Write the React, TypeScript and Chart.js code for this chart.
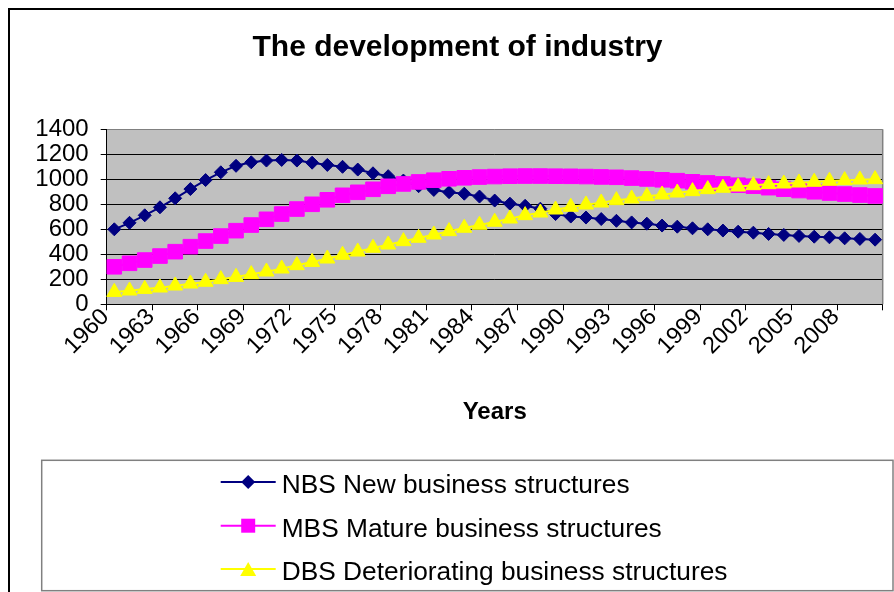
import React, { useEffect, useRef } from 'react';
import { Chart, registerables } from 'chart.js';

Chart.register(...registerables);

const YEARS = [
  '1960', '1961', '1962', '1963', '1964', '1965', '1966', '1967', '1968', '1969',
  '1970', '1971', '1972', '1973', '1974', '1975', '1976', '1977', '1978', '1979',
  '1980', '1981', '1982', '1983', '1984', '1985', '1986', '1987', '1988', '1989',
  '1990', '1991', '1992', '1993', '1994', '1995', '1996', '1997', '1998', '1999',
  '2000', '2001', '2002', '2003', '2004', '2005', '2006', '2007', '2008', '2009',
  '2010',
];

const NBS = [
  600, 652, 712, 776, 848, 922, 994, 1056, 1108, 1136,
  1150, 1155, 1150, 1133, 1115, 1100, 1078, 1048, 1025, 990,
  945, 915, 897, 885, 862, 830, 805, 788, 765, 722,
  702, 694, 682, 668, 655, 645, 630, 621, 608, 600,
  590, 581, 573, 563, 555, 547, 541, 536, 528, 523,
  517,
];

const MBS = [
  300, 328, 354, 386, 421, 461, 506, 546, 589, 634,
  680, 722, 762, 800, 836, 872, 896, 920, 944, 963,
  979, 993, 1004, 1012, 1018, 1022, 1025, 1026, 1026, 1025,
  1024, 1022, 1019, 1016, 1010, 1003, 996, 989, 980, 971,
  963, 953, 945, 933, 921, 910, 900, 890, 882, 874,
  867,
];

const DBS = [
  98, 109, 122, 133, 149, 165, 179, 200, 218, 240,
  261, 285, 312, 338, 365, 395, 421, 451, 477, 504,
  531, 557, 584, 611, 635, 659, 685, 712, 733, 757,
  779, 797, 813, 832, 845, 864, 877, 893, 904, 920,
  931, 941, 952, 960, 965, 973, 979, 987, 992, 997,
  1000,
];

const SERIES_NAMES = [
  'NBS New business structures',
  'MBS Mature business structures',
  'DBS Deteriorating business structures',
];
const SERIES_COLORS = ['#000080', '#FF00FF', '#FFFF00'];
const SERIES_STYLES = ['rectRot', 'rect', 'triangle'];

const TITLE = 'The development of industry';
const X_TITLE = 'Years';
const Y_MIN = 0;
const Y_MAX = 1400;
const Y_STEP = 200;
const LABEL_EVERY = 3;

const FONT = "Arial, 'Liberation Sans', sans-serif";

function drawMarker(ctx: CanvasRenderingContext2D, style: string, x: number, y: number, color: string) {
  ctx.save();
  ctx.fillStyle = color;
  ctx.beginPath();
  if (style === 'rectRot') {
    ctx.moveTo(x, y - 7);
    ctx.lineTo(x + 7, y);
    ctx.lineTo(x, y + 7);
    ctx.lineTo(x - 7, y);
  } else if (style === 'rect') {
    ctx.rect(x - 7, y - 7, 14, 14);
  } else {
    ctx.moveTo(x, y - 7);
    ctx.lineTo(x + 8, y + 7);
    ctx.lineTo(x - 8, y + 7);
  }
  ctx.closePath();
  ctx.fill();
  ctx.restore();
}

const decorPlugin = {
  id: 'decor',
  beforeDraw(chart: any) {
    const { ctx, chartArea: a } = chart;
    ctx.save();
    ctx.fillStyle = '#C0C0C0';
    ctx.fillRect(a.left, a.top, a.right - a.left, a.bottom - a.top);
    ctx.restore();
  },
  beforeDatasetsDraw(chart: any) {
    const { ctx, chartArea: a } = chart;
    ctx.save();
    ctx.strokeStyle = '#808080';
    ctx.lineWidth = 1.5;
    ctx.beginPath();
    ctx.moveTo(a.right, a.top);
    ctx.lineTo(a.right, a.bottom);
    ctx.stroke();
    ctx.restore();
  },
  afterDraw(chart: any) {
    const { ctx } = chart;
    ctx.save();
    // title
    ctx.fillStyle = '#000';
    ctx.font = `bold 30px ${FONT}`;
    ctx.textAlign = 'center';
    ctx.textBaseline = 'alphabetic';
    ctx.fillText(TITLE, 447.5, 46);

    // legend box
    ctx.strokeStyle = '#808080';
    ctx.lineWidth = 1.5;
    ctx.strokeRect(31.7, 450.3, 883 - 31.7, 580.7 - 450.3);

    const rowY = [472, 515.7, 559];
    chart.data.datasets.forEach((ds: any, i: number) => {
      const y = rowY[i];
      ctx.strokeStyle = ds.borderColor;
      ctx.lineWidth = 2;
      ctx.beginPath();
      ctx.moveTo(210.7, y);
      ctx.lineTo(265.7, y);
      ctx.stroke();
      drawMarker(ctx, ds.pointStyle, 238.2, y, ds.borderColor);
      ctx.fillStyle = '#000';
      ctx.font = `26.3px ${FONT}`;
      ctx.textAlign = 'left';
      ctx.textBaseline = 'alphabetic';
      ctx.fillText(ds.label, 271.7, y + 11);
    });
    ctx.restore();
  },
};

export default function App() {
  const ref = useRef<HTMLCanvasElement | null>(null);

  useEffect(() => {
    document.documentElement.style.overflow = 'hidden';
    const canvas = ref.current;
    if (!canvas) return;
    const seriesData = [NBS, MBS, DBS];
    const radii = [6.5, 10.3, 8.7];
    const chart = new Chart(canvas, {
      type: 'line',
      data: {
        labels: YEARS,
        datasets: seriesData.map((d, i) => ({
          label: SERIES_NAMES[i],
          data: d,
          borderColor: SERIES_COLORS[i],
          backgroundColor: SERIES_COLORS[i],
          pointBackgroundColor: SERIES_COLORS[i],
          pointBorderColor: SERIES_COLORS[i],
          pointStyle: SERIES_STYLES[i] as any,
          pointRadius: radii[i],
          pointBorderWidth: 1,
          borderWidth: 2,
          tension: 0,
          fill: false,
          order: 2 - i,
        })),
      },
      options: {
        animation: false,
        responsive: false,
        maintainAspectRatio: false,
        layout: { padding: { top: 119.3, right: 7.3, bottom: 164.9, left: 0 } },
        plugins: {
          legend: { display: false },
          title: { display: false },
          tooltip: { enabled: false },
        },
        scales: {
          x: {
            offset: true,
            grid: {
              offset: true,
              drawOnChartArea: false,
              drawTicks: true,
              tickLength: 6,
              color: '#000',
              tickColor: (c: any) =>
                c.index === undefined || c.index % LABEL_EVERY === 0 ? '#000' : 'rgba(0,0,0,0)',
            },
            border: { color: '#000', width: 1 },
            ticks: {
              autoSkip: false,
              minRotation: 45,
              maxRotation: 45,
              padding: -7,
              labelOffset: -9,
              color: '#000',
              font: { family: FONT, size: 23.5 },
              callback: (_v: any, i: number) => (i % LABEL_EVERY === 0 ? YEARS[i] : ''),
            },
            title: {
              display: true,
              text: X_TITLE,
              color: '#000',
              padding: 0,
              font: { family: FONT, size: 24, weight: 'bold' },
            },
            afterFit: (s: any) => {
              s.height = 122.8;
            },
          },
          y: {
            min: Y_MIN,
            max: Y_MAX,
            ticks: {
              stepSize: Y_STEP,
              autoSkip: false,
              color: '#000',
              padding: 12,
              font: { family: FONT, size: 24 },
              callback: (v: any) => String(v),
            },
            grid: {
              color: (c: any) => (c.tick && c.tick.value === Y_MAX ? '#808080' : '#000'),
              tickColor: '#000',
              tickLength: 6,
              lineWidth: 1,
            },
            border: { color: '#000', width: 1 },
            afterFit: (s: any) => {
              s.width = 96.7;
            },
          },
        },
      },
      plugins: [decorPlugin],
    });
    return () => chart.destroy();
  }, []);

  return (
    <div
      style={{
        position: 'fixed',
        left: 8,
        top: 8,
        width: 884,
        height: 582,
        borderLeft: '2px solid #000',
        borderTop: '2px solid #000',
        background: '#fff',
      }}
    >
      <canvas ref={ref} width={884} height={582} style={{ display: 'block' }} />
    </div>
  );
}
